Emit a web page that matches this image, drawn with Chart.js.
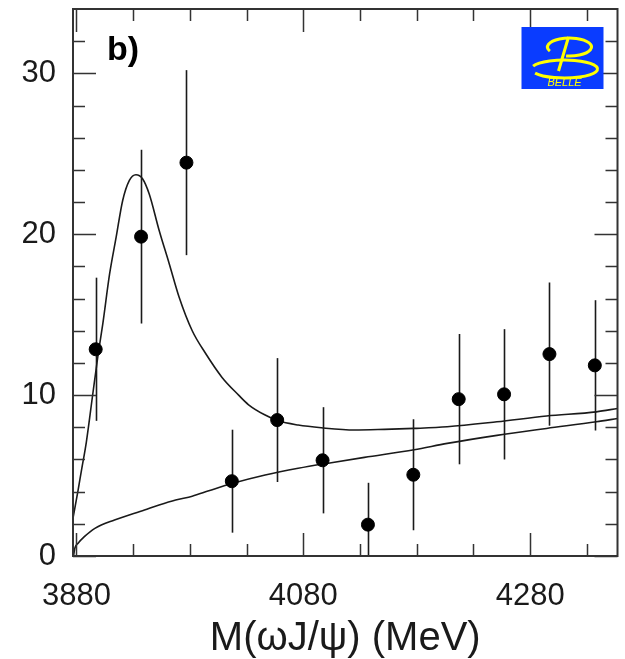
<!DOCTYPE html>
<html>
<head>
<meta charset="utf-8">
<script src="https://cdn.jsdelivr.net/npm/chart.js@4.4.0/dist/chart.umd.min.js"></script>
<style>
  html, body { margin: 0; padding: 0; background: #fff; }
  #wrap { width: 625px; height: 659px; position: relative; }
</style>
</head>
<body>
<div id="wrap"><canvas id="massChart"></canvas></div>
<script>
// bins of M(omega J/psi), 40 MeV wide
const binMass = [3897, 3937, 3977, 4017, 4057, 4097, 4137, 4177, 4217, 4257, 4297, 4337];
const binCounts = [12.85, 19.85, 24.45, 4.65, 8.45, 5.95, 1.95, 5.05, 9.75, 10.05, 12.55, 11.85];
const binErrors = [4.45, 5.4, 5.75, 3.2, 3.85, 3.3, 2.6, 3.45, 4.05, 4.05, 4.45, 4.05];

// fit: signal + background
const fitMass = [3877, 3881.5, 3884.5, 3888.8, 3894.5, 3898.9, 3903.3, 3909.2, 3915, 3920.8, 3926.7,
  3932.5, 3938.3, 3944.2, 3952.9, 3961.7, 3970.5, 3982.1, 3993.8, 4008.4, 4023, 4031.8, 4046.4,
  4058, 4075.5, 4095.9, 4125.2, 4151.5, 4177.7, 4206.9, 4250.7, 4294.5, 4338.3, 4357];
const fitTotal = [2.35, 4.1, 5.34, 7.1, 10.1, 12.4, 14.45, 17.5, 19.8, 22.1, 23.35,
  23.7, 23.45, 22.5, 20.25, 18.2, 16.1, 14.0, 12.6, 11.1, 10.0, 9.4, 8.76,
  8.4, 8.14, 7.97, 7.83, 7.87, 7.93, 8.03, 8.34, 8.7, 8.96, 9.17];

// background only
const bgMass = [3877.5, 3878.6, 3881.5, 3887, 3896.3, 3913.6, 3940, 3952.9, 3967.5, 3982.1, 3996.7,
  4017.1, 4046.4, 4075.5, 4104.7, 4133.9, 4177.7, 4206.9, 4250.7, 4294.5, 4338.3, 4357];
const bgValues = [0, 0.48, 0.79, 1.2, 1.72, 2.24, 2.86, 3.17, 3.48, 3.72, 4.05,
  4.5, 5.03, 5.45, 5.8, 6.13, 6.6, 7.0, 7.5, 7.93, 8.34, 8.55];

// axis ticks
const xTickVals = [3880, 3930, 3980, 4030, 4080, 4130, 4180, 4230, 4280, 4330];
const xLabelVals = [3880, 4080, 4280];
const yTickVals = [0, 2, 4, 6, 8, 10, 12, 14, 16, 18, 20, 22, 24, 26, 28, 30, 32];
const yLabelVals = [0, 10, 20, 30];

const FONT = '"Liberation Sans", Arial, sans-serif';
const INK = '#1a1a1a';

const pointsData = binMass.map((m, i) => ({ x: m, y: binCounts[i] }));
const totalData = fitMass.map((m, i) => ({ x: m, y: fitTotal[i] }));
const bgData = bgMass.map((m, i) => ({ x: m, y: bgValues[i] }));

// error bars under the dots
const errorBars = {
  id: 'errorBars',
  beforeDatasetsDraw(chart) {
    const { ctx, scales: { x, y } } = chart;
    ctx.save();
    ctx.strokeStyle = INK;
    ctx.lineWidth = 1.6;
    binMass.forEach((m, i) => {
      const px = Math.round(x.getPixelForValue(m)) + 0.5;
      const lo = Math.max(binCounts[i] - binErrors[i], y.min);
      const hi = binCounts[i] + binErrors[i];
      ctx.beginPath();
      ctx.moveTo(px, y.getPixelForValue(lo));
      ctx.lineTo(px, y.getPixelForValue(hi));
      ctx.stroke();
    });
    ctx.restore();
  }
};

// frame, inward ticks on all sides, panel label and logo
const frameAndDecor = {
  id: 'frameAndDecor',
  afterDraw(chart) {
    const { ctx, chartArea: a, scales: { x, y } } = chart;
    ctx.save();
    ctx.strokeStyle = '#333';
    ctx.lineWidth = 1.5;
    xTickVals.forEach(v => {
      const px = Math.round(x.getPixelForValue(v)) + 0.5;
      const len = xLabelVals.includes(v) ? 23 : 12;
      ctx.beginPath();
      ctx.moveTo(px, a.bottom); ctx.lineTo(px, a.bottom - len);
      ctx.moveTo(px, a.top); ctx.lineTo(px, a.top + len);
      ctx.stroke();
    });
    yTickVals.forEach(v => {
      const py = Math.round(y.getPixelForValue(v)) + 0.5;
      const len = yLabelVals.includes(v) ? 23 : 12;
      ctx.beginPath();
      ctx.moveTo(a.left, py); ctx.lineTo(a.left + len, py);
      ctx.moveTo(a.right, py); ctx.lineTo(a.right - len, py);
      ctx.stroke();
    });
    ctx.lineWidth = 2;
    ctx.strokeRect(a.left, a.top, a.right - a.left, a.bottom - a.top);

    // panel label
    ctx.fillStyle = '#000';
    ctx.font = 'bold 34px ' + FONT;
    ctx.textBaseline = 'alphabetic';
    ctx.fillText('b)', a.left + 34, a.top + 51);

    // Belle logo
    const lx = a.right - 96, ly = a.top + 18, lw = 82, lh = 62;
    ctx.fillStyle = '#0a3cff';
    ctx.fillRect(lx, ly, lw, lh);
    ctx.strokeStyle = '#ffff00';
    ctx.lineWidth = 3;
    ctx.beginPath();
    ctx.ellipse(lx + 43, ly + 42, 33, 9, 0, Math.PI * 1.1, Math.PI * 2.85);
    ctx.stroke();
    ctx.beginPath();
    ctx.ellipse(lx + 48, ly + 20, 22, 9, 0, Math.PI * 0.85, Math.PI * 2.55);
    ctx.stroke();
    ctx.beginPath();
    ctx.moveTo(lx + 47, ly + 10);
    ctx.lineTo(lx + 37, ly + 44);
    ctx.stroke();
    ctx.fillStyle = '#ffff00';
    ctx.font = 'italic 11px ' + FONT;
    ctx.textAlign = 'center';
    ctx.fillText('BELLE', lx + 43, ly + 59);
    ctx.restore();
  }
};

function zeroPadding(s) {
  s.paddingTop = 0; s.paddingBottom = 0; s.paddingLeft = 0; s.paddingRight = 0;
}

function plotarMassa() {
  const ctx = document.getElementById('massChart').getContext('2d');
  new Chart(ctx, {
    type: 'scatter',
    data: {
      datasets: [{
        label: 'data',
        data: pointsData,
        backgroundColor: '#000',
        borderColor: '#000',
        pointRadius: 6.5,
        pointHoverRadius: 6.5,
        showLine: false
      }, {
        label: 'fit',
        data: totalData,
        showLine: true,
        borderColor: INK,
        borderWidth: 1.6,
        pointRadius: 0,
        cubicInterpolationMode: 'monotone'
      }, {
        label: 'background',
        data: bgData,
        showLine: true,
        borderColor: INK,
        borderWidth: 1.6,
        pointRadius: 0,
        cubicInterpolationMode: 'monotone'
      }]
    },
    options: {
      responsive: true,
      maintainAspectRatio: false,
      animation: false,
      events: [],
      layout: { padding: { top: 9, right: 4, left: 0, bottom: 0 } },
      plugins: {
        legend: { display: false },
        tooltip: { enabled: false }
      },
      scales: {
        x: {
          type: 'linear',
          min: 3877,
          max: 4357,
          grid: { display: false, drawTicks: false, tickLength: 0 },
          border: { display: false },
          afterBuildTicks: s => { s.ticks = xTickVals.map(v => ({ value: v })); },
          afterFit: s => { s.height = 103; zeroPadding(s); },
          ticks: {
            autoSkip: false,
            maxRotation: 0,
            padding: 22,
            color: INK,
            font: { family: FONT, size: 31 },
            callback: v => xLabelVals.includes(v) ? String(v) : ''
          },
          title: {
            display: true,
            text: 'M(\u03c9J/\u03c8) (MeV)',
            color: INK,
            padding: { top: 0, bottom: 0 },
            font: { family: FONT, size: 40, lineHeight: 1 }
          }
        },
        y: {
          min: 0,
          max: 34,
          grid: { display: false, drawTicks: false, tickLength: 0 },
          border: { display: false },
          afterBuildTicks: s => { s.ticks = yTickVals.map(v => ({ value: v })); },
          afterFit: s => { s.width = 73; zeroPadding(s); },
          ticks: {
            autoSkip: false,
            padding: 17,
            color: INK,
            font: { family: FONT, size: 31 },
            callback: v => yLabelVals.includes(v) ? String(v) : ''
          }
        }
      }
    },
    plugins: [errorBars, frameAndDecor]
  });
}
window.onload = function () {
  plotarMassa();
};
</script>
</body>
</html>
